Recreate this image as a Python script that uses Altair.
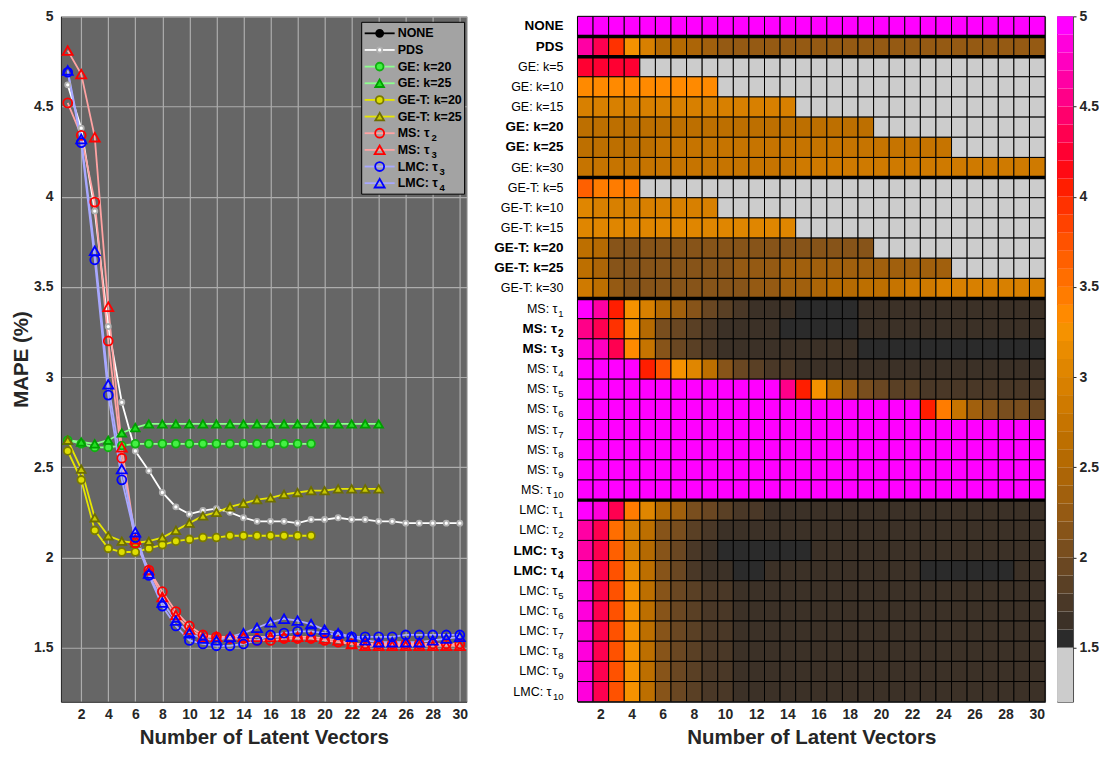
import altair as alt
import pandas as pd

FONT = "Liberation Sans"
SUBS = "₀₁₂₃₄₅₆₇₈₉"

# ---------------- data: left panel (MAPE curves) ----------------
latent_vectors = list(range(1, 31))

series_names = ["NONE", "PDS", "GE: k=20", "GE: k=25", "GE-T: k=20", "GE-T: k=25",
                "MS: τ₂", "MS: τ₃", "LMC: τ₃", "LMC: τ₄"]

none_mape = [5.3, 5.3, 5.3, 5.3, 5.3, 5.3, 5.3, 5.3, 5.3, 5.3, 5.3, 5.3, 5.3, 5.3, 5.3,
             5.3, 5.3, 5.3, 5.3, 5.3, 5.3, 5.3, 5.3, 5.3, 5.3, 5.3, 5.3, 5.3, 5.3, 5.3]
pds_mape = [4.62, 4.38, 3.92, 3.28, 2.86, 2.59, 2.48, 2.36, 2.28, 2.24, 2.26, 2.27, 2.25, 2.22, 2.20,
            2.20, 2.20, 2.19, 2.21, 2.21, 2.22, 2.21, 2.21, 2.20, 2.20, 2.19, 2.19, 2.19, 2.19, 2.19]
ge20_mape = [2.65, 2.63, 2.61, 2.61, 2.62, 2.63, 2.63, 2.63, 2.63, 2.63, 2.63, 2.63, 2.63, 2.63, 2.63,
             2.63, 2.63, 2.63, 2.63]
ge25_mape = [2.65, 2.64, 2.63, 2.65, 2.69, 2.72, 2.74, 2.74, 2.74, 2.74, 2.74, 2.74, 2.74, 2.74, 2.74,
             2.74, 2.74, 2.74, 2.74, 2.74, 2.74, 2.74, 2.74, 2.74]
get20_mape = [2.59, 2.43, 2.15, 2.05, 2.03, 2.03, 2.05, 2.07, 2.09, 2.10, 2.11, 2.11, 2.12, 2.12, 2.12,
              2.12, 2.12, 2.12, 2.12]
get25_mape = [2.65, 2.49, 2.22, 2.12, 2.09, 2.08, 2.09, 2.11, 2.15, 2.19, 2.23, 2.25, 2.28, 2.30, 2.32,
              2.33, 2.35, 2.36, 2.37, 2.37, 2.38, 2.38, 2.38, 2.38]
ms2_mape = [4.52, 4.34, 3.97, 3.20, 2.55, 2.08, 1.93, 1.81, 1.70, 1.62, 1.57, 1.56, 1.55, 1.55, 1.54,
            1.54, 1.55, 1.55, 1.55, 1.54, 1.53, 1.52, 1.52, 1.52, 1.52, 1.52, 1.52, 1.52, 1.52, 1.52]
ms3_mape = [4.81, 4.68, 4.33, 3.39, 2.61, 2.10, 1.93, 1.78, 1.68, 1.60, 1.56, 1.56, 1.56, 1.56, 1.56,
            1.56, 1.56, 1.56, 1.56, 1.55, 1.54, 1.52, 1.51, 1.51, 1.51, 1.51, 1.51, 1.51, 1.51, 1.51]
lmc3_mape = [4.69, 4.30, 3.65, 2.90, 2.43, 2.11, 1.90, 1.73, 1.62, 1.54, 1.52, 1.51, 1.51, 1.52, 1.54,
             1.57, 1.58, 1.59, 1.59, 1.58, 1.57, 1.56, 1.56, 1.56, 1.56, 1.57, 1.57, 1.57, 1.57, 1.57]
lmc4_mape = [4.70, 4.32, 3.70, 2.96, 2.49, 2.14, 1.91, 1.75, 1.65, 1.58, 1.55, 1.54, 1.56, 1.58, 1.61,
             1.64, 1.66, 1.65, 1.63, 1.60, 1.58, 1.56, 1.54, 1.53, 1.53, 1.53, 1.53, 1.54, 1.55, 1.56]

series_values = [none_mape, pds_mape, ge20_mape, ge25_mape, get20_mape, get25_mape,
                 ms2_mape, ms3_mape, lmc3_mape, lmc4_mape]

y_ticks = [1.5, 2, 2.5, 3, 3.5, 4, 4.5, 5]
x_ticks = [2, 4, 6, 8, 10, 12, 14, 16, 18, 20, 22, 24, 26, 28, 30]

# styles
line_colors = ["#000000", "#ffffff", "#8cff8c", "#8cff8c", "#e6e600", "#e6e600",
               "#ffa3a3", "#ffa3a3", "#a8a8ff", "#a8a8ff"]
marker_shapes = ["circle", "circle", "circle", "triangle-up", "circle", "triangle-up",
                 "circle", "triangle-up", "circle", "triangle-up"]
marker_fills = ["#000000", "#ffffff", "#44f044", "#22e022", "#dede00", "#c8c800",
                "transparent", "transparent", "transparent", "transparent"]
marker_edges = ["#000000", "#b0b0b0", "#10b010", "#00a000", "#7a7a00", "#6e6e00",
                "#ff0000", "#ff0000", "#0000ff", "#0000ff"]
marker_sizes = [50, 26, 60, 75, 60, 75, 80, 100, 80, 100]

# ---------------- data: heat map ----------------
heat_labels = ["NONE", "PDS",
               "GE: k=5", "GE: k=10", "GE: k=15", "GE: k=20", "GE: k=25", "GE: k=30",
               "GE-T: k=5", "GE-T: k=10", "GE-T: k=15", "GE-T: k=20", "GE-T: k=25", "GE-T: k=30",
               "MS: τ₁", "MS: τ₂", "MS: τ₃", "MS: τ₄", "MS: τ₅", "MS: τ₆", "MS: τ₇", "MS: τ₈",
               "MS: τ₉", "MS: τ₁₀",
               "LMC: τ₁", "LMC: τ₂", "LMC: τ₃", "LMC: τ₄", "LMC: τ₅", "LMC: τ₆", "LMC: τ₇",
               "LMC: τ₈", "LMC: τ₉", "LMC: τ₁₀"]
bold_labels = ["NONE", "PDS", "GE: k=20", "GE: k=25", "GE-T: k=20", "GE-T: k=25",
               "MS: τ₂", "MS: τ₃", "LMC: τ₃", "LMC: τ₄"]
group_starts = ["PDS", "GE: k=5", "GE-T: k=5", "MS: τ₁", "LMC: τ₁"]

# each row lists the cells that exist; missing cells (beyond the list) are NaN
h_none = [5.3, 5.3, 5.3, 5.3, 5.3, 5.3, 5.3, 5.3, 5.3, 5.3, 5.3, 5.3, 5.3, 5.3, 5.3,
          5.3, 5.3, 5.3, 5.3, 5.3, 5.3, 5.3, 5.3, 5.3, 5.3, 5.3, 5.3, 5.3, 5.3, 5.3]
h_pds = [4.62, 4.38, 3.92, 3.28, 2.95, 2.58, 2.52, 2.45, 2.32, 2.26, 2.27, 2.27, 2.26, 2.24, 2.22,
         2.22, 2.22, 2.21, 2.22, 2.22, 2.23, 2.22, 2.22, 2.21, 2.21, 2.21, 2.21, 2.21, 2.21, 2.21]
h_ge5 = [4.28, 4.26, 4.25, 4.22]
h_ge10 = [3.35, 3.34, 3.33, 3.33, 3.33, 3.32, 3.32, 3.32, 3.32]
h_ge15 = [2.97, 2.96, 2.95, 2.95, 2.95, 2.95, 2.95, 2.95, 2.95, 2.95, 2.95, 2.95, 2.95, 2.95]
h_ge20 = [2.65, 2.63, 2.61, 2.61, 2.62, 2.63, 2.63, 2.63, 2.63, 2.63, 2.63, 2.63, 2.63, 2.63, 2.63,
          2.63, 2.63, 2.63, 2.63]
h_ge25 = [2.65, 2.64, 2.63, 2.65, 2.69, 2.72, 2.74, 2.74, 2.74, 2.74, 2.74, 2.74, 2.74, 2.74, 2.74,
          2.74, 2.74, 2.74, 2.74, 2.74, 2.74, 2.74, 2.74, 2.74]
h_ge30 = [2.72, 2.71, 2.71, 2.72, 2.73, 2.74, 2.75, 2.76, 2.76, 2.77, 2.77, 2.78, 2.78, 2.79, 2.80,
          2.81, 2.81, 2.82, 2.82, 2.82, 2.83, 2.83, 2.83, 2.83, 2.84, 2.84, 2.84, 2.84, 2.84, 2.84]
h_get5 = [3.65, 3.45, 3.44, 3.42]
h_get10 = [3.05, 2.98, 2.97, 2.96, 2.96, 2.95, 2.95, 2.95, 2.95]
h_get15 = [3.08, 3.05, 3.02, 3.01, 3.00, 3.00, 3.00, 3.01, 3.01, 3.02, 3.02, 3.03, 3.03, 3.04]
h_get20 = [2.62, 2.52, 2.15, 2.12, 2.11, 2.11, 2.12, 2.12, 2.13, 2.13, 2.14, 2.14, 2.14, 2.14, 2.14,
           2.14, 2.14, 2.14, 2.14]
h_get25 = [2.65, 2.49, 2.18, 2.12, 2.11, 2.11, 2.12, 2.13, 2.16, 2.19, 2.23, 2.25, 2.28, 2.30, 2.32,
           2.33, 2.35, 2.36, 2.37, 2.37, 2.38, 2.38, 2.38, 2.38]
h_get30 = [2.85, 2.62, 2.28, 2.16, 2.15, 2.15, 2.15, 2.16, 2.16, 2.17, 2.18, 2.22, 2.26, 2.31, 2.36,
           2.42, 2.50, 2.56, 2.62, 2.68, 2.74, 2.80, 2.86, 2.92, 2.93, 2.94, 2.95, 2.95, 2.95, 2.95]
h_ms1 = [5.10, 4.62, 4.02, 3.25, 2.92, 2.55, 2.35, 2.12, 1.95, 1.85, 1.76, 1.66, 1.65, 1.63, 1.55,
         1.54, 1.54, 1.55, 1.62, 1.63, 1.63, 1.63, 1.64, 1.64, 1.64, 1.64, 1.64, 1.64, 1.64, 1.64]
h_ms2 = [4.52, 4.34, 3.97, 3.20, 2.55, 2.08, 1.93, 1.81, 1.70, 1.62, 1.61, 1.61, 1.60, 1.55, 1.54,
         1.54, 1.55, 1.55, 1.61, 1.61, 1.61, 1.62, 1.62, 1.62, 1.62, 1.62, 1.62, 1.62, 1.62, 1.62]
h_ms3 = [4.85, 4.70, 4.33, 3.39, 2.70, 2.10, 1.93, 1.80, 1.70, 1.65, 1.63, 1.62, 1.62, 1.62, 1.61,
         1.61, 1.61, 1.61, 1.55, 1.55, 1.54, 1.53, 1.52, 1.52, 1.52, 1.52, 1.52, 1.52, 1.52, 1.52]
h_ms4 = [5.10, 5.05, 5.00, 4.95, 4.05, 3.75, 3.22, 3.05, 2.68, 2.15, 1.95, 1.85, 1.75, 1.70, 1.68,
         1.66, 1.66, 1.66, 1.65, 1.65, 1.65, 1.65, 1.65, 1.66, 1.66, 1.66, 1.66, 1.66, 1.66, 1.66]
h_ms5 = [5.3, 5.3, 5.3, 5.3, 5.3, 5.3, 5.3, 5.3, 5.3, 5.3, 5.3, 5.3, 5.3, 4.50, 4.05,
         3.20, 2.60, 2.20, 2.00, 1.90, 1.85, 1.80, 1.78, 1.75, 1.75, 1.75, 1.75, 1.75, 1.75, 1.75]
h_ms6 = [5.3, 5.3, 5.3, 5.3, 5.3, 5.3, 5.3, 5.3, 5.3, 5.3, 5.3, 5.3, 5.3, 5.3, 5.3,
         5.3, 5.3, 5.3, 5.3, 5.3, 5.3, 5.3, 4.05, 3.40, 2.75, 2.30, 2.15, 2.05, 2.00, 1.95]
h_ms7 = [5.3, 5.3, 5.3, 5.3, 5.3, 5.3, 5.3, 5.3, 5.3, 5.3, 5.3, 5.3, 5.3, 5.3, 5.3,
         5.3, 5.3, 5.3, 5.3, 5.3, 5.3, 5.3, 5.3, 5.3, 5.3, 5.3, 5.3, 5.3, 5.3, 5.3]
h_ms8 = [5.3, 5.3, 5.3, 5.3, 5.3, 5.3, 5.3, 5.3, 5.3, 5.3, 5.3, 5.3, 5.3, 5.3, 5.3,
         5.3, 5.3, 5.3, 5.3, 5.3, 5.3, 5.3, 5.3, 5.3, 5.3, 5.3, 5.3, 5.3, 5.3, 5.3]
h_ms9 = [5.3, 5.3, 5.3, 5.3, 5.3, 5.3, 5.3, 5.3, 5.3, 5.3, 5.3, 5.3, 5.3, 5.3, 5.3,
         5.3, 5.3, 5.3, 5.3, 5.3, 5.3, 5.3, 5.3, 5.3, 5.3, 5.3, 5.3, 5.3, 5.3, 5.3]
h_ms10 = [5.3, 5.3, 5.3, 5.3, 5.3, 5.3, 5.3, 5.3, 5.3, 5.3, 5.3, 5.3, 5.3, 5.3, 5.3,
          5.3, 5.3, 5.3, 5.3, 5.3, 5.3, 5.3, 5.3, 5.3, 5.3, 5.3, 5.3, 5.3, 5.3, 5.3]
h_lmc1 = [5.00, 4.82, 4.30, 3.42, 3.02, 2.55, 2.35, 2.05, 1.95, 1.85, 1.76, 1.74, 1.66, 1.65, 1.65,
          1.64, 1.64, 1.64, 1.64, 1.64, 1.64, 1.64, 1.64, 1.64, 1.64, 1.64, 1.64, 1.64, 1.64, 1.64]
h_lmc2 = [4.62, 4.30, 3.55, 2.95, 2.62, 2.18, 2.00, 1.85, 1.76, 1.66, 1.65, 1.65, 1.64, 1.64, 1.64,
          1.64, 1.64, 1.64, 1.64, 1.64, 1.64, 1.64, 1.64, 1.64, 1.64, 1.64, 1.64, 1.64, 1.64, 1.64]
h_lmc3 = [4.69, 4.30, 3.65, 2.95, 2.50, 2.11, 1.92, 1.75, 1.65, 1.54, 1.52, 1.51, 1.51, 1.52, 1.54,
          1.61, 1.61, 1.62, 1.62, 1.61, 1.61, 1.61, 1.61, 1.61, 1.61, 1.61, 1.61, 1.61, 1.61, 1.61]
h_lmc4 = [4.85, 4.30, 3.75, 3.10, 2.60, 2.15, 1.95, 1.75, 1.65, 1.62, 1.55, 1.54, 1.61, 1.62, 1.63,
          1.64, 1.66, 1.65, 1.63, 1.62, 1.61, 1.61, 1.54, 1.53, 1.53, 1.53, 1.53, 1.54, 1.61, 1.61]
h_lmc5 = [4.85, 4.30, 3.75, 3.20, 2.65, 2.15, 1.95, 1.85, 1.75, 1.71, 1.66, 1.65, 1.65, 1.64, 1.64,
          1.64, 1.64, 1.64, 1.64, 1.64, 1.64, 1.64, 1.64, 1.64, 1.64, 1.64, 1.64, 1.64, 1.64, 1.64]
h_lmc6 = [4.86, 4.30, 3.74, 3.22, 2.66, 2.16, 1.96, 1.86, 1.76, 1.70, 1.67, 1.66, 1.65, 1.65, 1.64,
          1.64, 1.64, 1.64, 1.64, 1.64, 1.64, 1.64, 1.64, 1.64, 1.64, 1.64, 1.64, 1.64, 1.64, 1.64]
h_lmc7 = [4.86, 4.31, 3.75, 3.21, 2.65, 2.15, 1.96, 1.85, 1.76, 1.71, 1.67, 1.66, 1.65, 1.65, 1.65,
          1.64, 1.64, 1.64, 1.64, 1.64, 1.64, 1.64, 1.64, 1.64, 1.64, 1.64, 1.64, 1.64, 1.64, 1.64]
h_lmc8 = [4.86, 4.31, 3.75, 3.21, 2.65, 2.15, 1.96, 1.86, 1.76, 1.71, 1.67, 1.66, 1.65, 1.65, 1.65,
          1.65, 1.64, 1.64, 1.64, 1.64, 1.64, 1.64, 1.64, 1.64, 1.64, 1.64, 1.64, 1.64, 1.64, 1.64]
h_lmc9 = [4.86, 4.31, 3.76, 3.22, 2.66, 2.16, 1.96, 1.86, 1.76, 1.71, 1.67, 1.66, 1.66, 1.65, 1.65,
          1.65, 1.65, 1.64, 1.64, 1.64, 1.64, 1.64, 1.64, 1.64, 1.64, 1.64, 1.64, 1.64, 1.64, 1.64]
h_lmc10 = [4.86, 4.31, 3.76, 3.22, 2.66, 2.16, 1.96, 1.86, 1.77, 1.71, 1.67, 1.66, 1.66, 1.65, 1.65,
           1.65, 1.65, 1.65, 1.64, 1.64, 1.64, 1.64, 1.64, 1.64, 1.64, 1.64, 1.64, 1.64, 1.64, 1.64]

heat_values = [h_none, h_pds, h_ge5, h_ge10, h_ge15, h_ge20, h_ge25, h_ge30,
               h_get5, h_get10, h_get15, h_get20, h_get25, h_get30,
               h_ms1, h_ms2, h_ms3, h_ms4, h_ms5, h_ms6, h_ms7, h_ms8, h_ms9, h_ms10,
               h_lmc1, h_lmc2, h_lmc3, h_lmc4, h_lmc5, h_lmc6, h_lmc7, h_lmc8, h_lmc9, h_lmc10]

# discrete colour map (NaN -> lowest, grey)
cmap_edges = [1.2, 1.5, 1.6, 1.7, 1.8, 1.9, 2.0, 2.1, 2.2, 2.3, 2.4, 2.5, 2.6, 2.7, 2.8, 2.9,
              3.0, 3.1, 3.2, 3.3, 3.4, 3.5, 3.6, 3.7, 3.8, 3.9, 4.0, 4.1, 4.2, 4.3, 4.4, 4.5,
              4.6, 4.7, 4.8, 4.9, 5.0]
cmap_colors = ["#cccccc", "#2b2b2b", "#3c3127", "#4a3827", "#5a4025", "#6a4722", "#794e1e",
               "#875419", "#955a13", "#a1600d", "#ac6507", "#b56a02", "#bd6f00", "#c67400",
               "#cf7a00", "#d88000", "#e08600", "#ea8c00", "#f59200", "#ff8a00", "#ff7c00",
               "#ff6e00", "#ff6000", "#ff5200", "#ff4200", "#ff3200", "#ff1e00", "#ff0a14",
               "#ff0032", "#ff0050", "#ff006c", "#ff0088", "#ff00a4", "#ff00c0", "#ff00dc",
               "#ff00ff"]


def split_sub(label):
    """'MS: τ₁₀' -> ('MS: τ', '10'); labels without subscript -> (label, '')."""
    base = label.rstrip(SUBS)
    sub = "".join(str(SUBS.index(ch)) for ch in label[len(base):])
    return base, sub


# ---------------- tables ----------------
rows = []
for s, vals in zip(series_names, series_values):
    for n, v in zip(latent_vectors, vals):
        rows.append({"series": s, "n": n, "mape": v})
line_df = pd.DataFrame(rows)
legend_df = pd.DataFrame({
    "series": series_names,
    "idx": list(range(len(series_names))),
    "base": [split_sub(s)[0] for s in series_names],
    "sub": [split_sub(s)[1] for s in series_names],
})

hrows = []
for lab, vals in zip(heat_labels, heat_values):
    for i, c in enumerate(latent_vectors):
        hrows.append({"row": lab, "col": c, "v": vals[i] if i < len(vals) else None})
heat_df = pd.DataFrame(hrows)
sep_df = pd.DataFrame({"row": group_starts})
lab_df = pd.DataFrame([{"row": lab, "base": split_sub(lab)[0], "sub": split_sub(lab)[1],
                        "nsub": len(split_sub(lab)[1]), "bold": lab in bold_labels}
                       for lab in heat_labels])
cbar_df = pd.DataFrame({"lo": cmap_edges[:-1], "hi": cmap_edges[1:]})

# marker size looked up per series inside Vega (size scales cannot be ordinal)
size_expr = "{" + ",".join("'" + s + "':" + str(z) for s, z in zip(series_names, marker_sizes)) + "}[datum.series]"

# ---------------- left panel ----------------
W_L, W_H, H = 406, 468, 686

x_scale = alt.Scale(domain=[0.5, 30.5], nice=False, zero=False)
y_scale = alt.Scale(domain=[1.2, 5], nice=False, zero=False)
x_enc = alt.X("n:Q", scale=x_scale,
              axis=alt.Axis(values=x_ticks, title="Number of Latent Vectors", grid=True, ticks=False,
                            labelPadding=6, titlePadding=6))
y_enc = alt.Y("mape:Q", scale=y_scale,
              axis=alt.Axis(values=y_ticks, format="~g", title="MAPE (%)", grid=True, ticks=False,
                            labelPadding=8, titlePadding=2))
color_s = alt.Scale(domain=series_names, range=line_colors)
shape_s = alt.Scale(domain=series_names, range=marker_shapes)
fill_s = alt.Scale(domain=series_names, range=marker_fills)
stroke_s = alt.Scale(domain=series_names, range=marker_edges)

lines = alt.Chart(line_df).mark_line(strokeWidth=1.8, clip=True).encode(
    x=x_enc, y=y_enc,
    color=alt.Color("series:N", scale=color_s, legend=None),
)
points = alt.Chart(line_df).transform_calculate(msize=size_expr).mark_point(
    filled=True, strokeWidth=1.8, opacity=1, clip=True).encode(
    x=x_enc, y=y_enc,
    shape=alt.Shape("series:N", scale=shape_s, legend=None),
    fill=alt.Fill("series:N", scale=fill_s, legend=None),
    stroke=alt.Stroke("series:N", scale=stroke_s, legend=None),
    size=alt.Size("msize:Q", scale=None, legend=None),
)

leg_y = alt.Y("idx:Q", scale=alt.Scale(domain=[0, 9], range=[17, 167]), axis=None)
leg_bg = alt.Chart(pd.DataFrame({"k": [0]})).mark_rect(
    fill="#a3a3a3", stroke="#000000", strokeWidth=1).encode(
    x=alt.value(301), x2=alt.value(404), y=alt.value(6), y2=alt.value(178))
leg_lines = alt.Chart(legend_df).mark_rule(strokeWidth=1.8).encode(
    x=alt.value(304), x2=alt.value(334), y=leg_y,
    color=alt.Color("series:N", scale=color_s, legend=None))
leg_pts = alt.Chart(legend_df).transform_calculate(msize=size_expr).mark_point(
    filled=True, strokeWidth=1.8, opacity=1).encode(
    x=alt.value(319), y=leg_y,
    shape=alt.Shape("series:N", scale=shape_s, legend=None),
    fill=alt.Fill("series:N", scale=fill_s, legend=None),
    stroke=alt.Stroke("series:N", scale=stroke_s, legend=None),
    size=alt.Size("msize:Q", scale=None, legend=None))
leg_txt = alt.Chart(legend_df).mark_text(
    align="left", baseline="middle", font=FONT, fontSize=12.5, fontWeight="bold", color="#000000").encode(
    x=alt.value(337), y=leg_y, text="base:N")
leg_sub_ms = alt.Chart(legend_df).transform_filter("indexof(datum.series, 'MS') == 0").mark_text(
    align="left", baseline="middle", dy=5, font=FONT, fontSize=9.5, fontWeight="bold", color="#000000").encode(
    x=alt.value(371), y=leg_y, text="sub:N")
leg_sub_lmc = alt.Chart(legend_df).transform_filter("indexof(datum.series, 'LMC') == 0").mark_text(
    align="left", baseline="middle", dy=5, font=FONT, fontSize=9.5, fontWeight="bold", color="#000000").encode(
    x=alt.value(379), y=leg_y, text="sub:N")

left = alt.layer(
    alt.layer(lines, points),
    alt.layer(leg_bg, leg_lines, leg_pts, leg_txt, leg_sub_ms, leg_sub_lmc),
).resolve_scale(y="independent").properties(
    width=W_L, height=H, view=alt.ViewBackground(fill="#666666", stroke="#9a9a9a"))

# ---------------- heat map ----------------
row_scale = alt.Scale(domain=heat_labels, paddingInner=0, paddingOuter=0)
row_y = alt.Y("row:N", scale=row_scale, axis=None)
cmap_scale = alt.Scale(type="threshold", domain=cmap_edges[1:-1], range=cmap_colors)

cells = alt.Chart(heat_df).transform_calculate(
    cv="isValid(datum.v) ? datum.v : 0"
).mark_rect(stroke="#000000", strokeWidth=1).encode(
    x=alt.X("col:O", scale=alt.Scale(paddingInner=0, paddingOuter=0),
            axis=alt.Axis(values=x_ticks, labelAngle=0, title="Number of Latent Vectors", ticks=False,
                          grid=False, labelPadding=6, titlePadding=6)),
    y=row_y,
    fill=alt.Fill("cv:Q", scale=cmap_scale, legend=None),
)
seps = alt.Chart(sep_df).mark_rule(color="#000000", strokeWidth=3.5).encode(
    y=alt.Y("row:N", scale=row_scale, axis=None, bandPosition=0))

# row labels: base text, then a lowered smaller subscript next to the cells
label_layers = []
for is_bold in (False, True):
    weight = "bold" if is_bold else "normal"
    fsize = 13.5 if is_bold else 12.5
    sub_w = 6.5 if is_bold else 6
    for nsub in (0, 1, 2):
        pad = 14 + nsub * sub_w
        test = ("datum.bold" if is_bold else "!datum.bold") + " && datum.nsub == " + str(nsub)
        label_layers.append(
            alt.Chart(lab_df).transform_filter(test).mark_text(
                align="right", baseline="middle", font=FONT, fontSize=fsize, fontWeight=weight,
                color="#000000").encode(x=alt.value(-pad), y=row_y, text="base:N"))
    label_layers.append(
        alt.Chart(lab_df).transform_filter(("datum.bold" if is_bold else "!datum.bold") + " && datum.nsub > 0")
        .mark_text(align="right", baseline="middle", dy=5, font=FONT, fontSize=10 if is_bold else 9.5,
                   fontWeight=weight, color="#000000")
        .encode(x=alt.value(-14), y=row_y, text="sub:N"))

heat = alt.layer(cells, seps, *label_layers).properties(
    width=W_H, height=H, view=alt.ViewBackground(stroke="#4d4d4d"))

# ---------------- colour bar ----------------
cbar = alt.Chart(cbar_df).mark_rect().encode(
    x=alt.value(0), x2=alt.value(16),
    y=alt.Y("lo:Q", scale=alt.Scale(domain=[1.2, 5], nice=False, zero=False),
            axis=alt.Axis(orient="right", values=y_ticks, format="~g", title=None, grid=False,
                          tickSize=3, labelPadding=3, domain=False)),
    y2="hi:Q",
    fill=alt.Fill("lo:Q", scale=cmap_scale, legend=None),
).properties(width=16, height=H, view=alt.ViewBackground(stroke="#4d4d4d"))

chart = alt.hconcat(
    left,
    alt.hconcat(heat, cbar, spacing=8),
    spacing=25,
).properties(padding={"left": 3, "top": 0, "right": 0, "bottom": 0}).configure(font=FONT).configure_axis(
    labelFont=FONT, titleFont=FONT, labelFontWeight="bold", labelFontSize=14,
    titleFontSize=20.5, titleFontWeight="bold", labelColor="#262626", titleColor="#262626",
    gridColor="#adadad", gridOpacity=1, gridWidth=1.2, domainColor="#262626", tickColor="#262626",
)

chart.save("out.html", embed_options={"renderer": "svg", "actions": False})
